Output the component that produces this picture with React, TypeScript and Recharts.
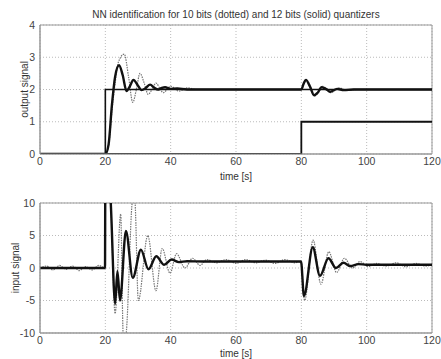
import React from 'react';
import { LineChart, Line, XAxis, YAxis, CartesianGrid, ReferenceArea } from 'recharts';

// ---------- top plot: output signal ----------
const refT = [0, 20, 20, 120];
const refY = [0, 0, 2, 2];

const distT = [0, 80, 80, 120];
const distY = [0, 0, 1, 1];

const out12T = [0, 20, 21, 22, 23, 24.2, 25.3, 26.5, 27.5, 28.6, 29.8, 31.1, 32.4, 33.7, 35, 36.2, 37.3, 38.3, 40, 42, 45, 50, 80, 80.7, 81.4, 82.6, 83.9, 85, 86.2, 87.5, 88.8, 91, 93, 96, 100, 120];
const out12Y = [0, 0, 0.3, 1.5, 2.4, 2.75, 2.45, 1.95, 2.1, 2.3, 2.15, 1.98, 2.05, 2.15, 2.05, 2.0, 2.05, 2.07, 2.02, 2.03, 2.0, 2.0, 2.0, 2.18, 2.3, 2.1, 1.82, 1.9, 2.07, 2.02, 1.93, 2.02, 1.98, 2.0, 2.0, 2.0];

const out10T = [0, 20, 21, 22, 23, 24, 25.8, 27.1, 28.4, 29.5, 30.6, 31.9, 33.1, 34.3, 35.5, 36.6, 37.7, 40, 42.5, 45, 48, 80, 80.7, 81.5, 82.7, 84, 85.2, 86.5, 87.8, 89, 91.5, 94, 97, 120];
const out10Y = [0, 0, 0.25, 1.3, 2.2, 2.85, 3.1, 2.4, 1.6, 2.0, 2.5, 2.2, 1.85, 2.0, 2.2, 2.05, 1.9, 2.1, 1.95, 2.05, 2.0, 2.0, 2.15, 2.3, 2.12, 1.8, 1.9, 2.1, 2.02, 1.9, 2.05, 1.97, 2.0, 2.0];

// ---------- bottom plot: input signal ----------
const in12T = [0, 19.9, 20, 21.4, 23, 23.7, 24.5, 26.3, 28.4, 30.9, 33.2, 35.6, 38, 40.3, 42.5, 45, 50, 79.9, 80.8, 83.5, 85.7, 88.3, 90.6, 92.9, 95, 97.5, 100, 120];
const in12Y = [0, 0, 14, 12, -5.5, -0.5, -5, 5.7, -1.5, 2.8, -0.2, 1.8, 0.5, 1.3, 0.9, 1.05, 1.0, 1.0, -4.3, 3.2, -1.2, 1.5, 0.0, 0.8, 0.3, 0.6, 0.5, 0.5];

const in10T = [0, 2, 4, 6, 8, 10, 12, 14, 16, 18, 19.9, 20, 21.4, 23, 24.7, 25.5, 26.2, 28.4, 29, 30.1, 33, 35.5, 37.4, 39.8, 41.8, 44.4, 46.7, 49, 51, 54, 57, 60, 63, 66, 69, 72, 75, 78, 79.9, 81, 83.6, 86, 88.4, 90.8, 93.2, 95.6, 98, 100.5, 103, 106, 109, 112, 115, 118, 120];
const in10Y = [0, 0.3, -0.3, 0.4, -0.2, 0.3, -0.4, 0.2, -0.3, 0.4, 0, 14, 12, -7, 8.3, -10.5, -10.5, 10.5, 10.5, -5, 5, -3.5, 3, -0.8, 2.2, 0, 1.5, 0.4, 1.3, 0.8, 1.3, 0.7, 1.3, 0.8, 1.2, 0.7, 1.3, 0.8, 1.0, -5, 4.3, -2.5, 2.5, -0.7, 1.5, 0, 1.0, 0.2, 0.7, 0.3, 0.8, 0.2, 0.7, 0.3, 0.5];

const xTicks = [0, 20, 40, 60, 80, 100, 120];
const topYTicks = [0, 1, 2, 3, 4];
const botYTicks = [-10, -5, 0, 5, 10];

const zip = (t: number[], y: number[]) => t.map((x, i) => ({ t: x, v: y[i] }));

const font = 'Liberation Sans, Arial, sans-serif';
const tickStyle = { fontSize: 10.5, fill: '#444', fontFamily: font };

function Panel({ yTicks, yDomain, yLabel, labelX, series, top, height, marginTop, xAxisHeight, labelOffset }: any) {
  const plotH = height - marginTop - xAxisHeight;
  const cy = marginTop + plotH / 2;
  return (
    <div style={{ position: 'absolute', left: 0, top, width: 441, height }}>
      <LineChart width={441} height={height} margin={{ top: marginTop, right: 9, bottom: 0, left: 0 }}>
        <CartesianGrid stroke="#aaa" strokeDasharray="1 2" strokeWidth={0.8} />
        <XAxis
          type="number"
          dataKey="t"
          domain={[0, 120]}
          ticks={xTicks}
          height={xAxisHeight}
          tickLine={false}
          tickSize={2}
          axisLine={{ stroke: '#999' }}
          tick={tickStyle}
          allowDuplicatedCategory={false}
          label={{ value: 'time [s]', position: 'insideBottom', offset: labelOffset, style: { fontSize: 10, fill: '#333', fontFamily: font } }}
        />
        <YAxis
          type="number"
          domain={yDomain}
          ticks={yTicks}
          width={40}
          tickLine={false}
          tickSize={3}
          allowDataOverflow
          axisLine={{ stroke: '#999' }}
          tick={tickStyle}
          label={{
            value: yLabel,
            content: () => (
              <text
                transform={`translate(${labelX}, ${cy}) rotate(-90)`}
                textAnchor="middle"
                dominantBaseline="central"
                style={{ fontSize: 10, fill: '#333', fontFamily: font }}
              >
                {yLabel}
              </text>
            ),
          }}
        />
        <ReferenceArea x1={0} x2={120} y1={yDomain[0]} y2={yDomain[1]} fill="none" stroke="#999" strokeWidth={1} />
        {series.map((s: any, i: number) => (
          <Line
            key={i}
            data={s.data}
            dataKey="v"
            type={s.curve}
            dot={false}
            stroke={s.stroke}
            strokeWidth={s.width}
            strokeDasharray={s.dash}
            isAnimationActive={false}
          />
        ))}
      </LineChart>
    </div>
  );
}

export default function App() {
  const topSeries = [
    { data: zip(out10T, out10Y), stroke: '#777', width: 1.2, dash: '1.5 1', curve: 'monotone' },
    { data: zip(refT, refY), stroke: '#111', width: 1.6, curve: 'linear' },
    { data: zip(distT, distY), stroke: '#111', width: 1.8, curve: 'linear' },
    { data: zip(out12T, out12Y), stroke: '#111', width: 2.4, curve: 'monotone' },
  ];
  const botSeries = [
    { data: zip(in10T, in10Y), stroke: '#777', width: 1.2, dash: '1.5 1', curve: 'monotone' },
    { data: zip(in12T, in12Y), stroke: '#111', width: 2.4, curve: 'monotone' },
  ];
  return (
    <div style={{ position: 'absolute', left: 0, top: 0, width: 441, height: 359, background: '#fff' }}>
      <div style={{ position: 'absolute', left: 40, width: 392, top: 9, textAlign: 'center', fontSize: 10, color: '#333', fontFamily: font }}>
        NN identification for 10 bits (dotted) and 12 bits (solid) quantizers
      </div>
      <Panel yTicks={topYTicks} yDomain={[0, 4]} yLabel="output signal" labelX={24} series={topSeries} top={0} height={184} marginTop={25} xAxisHeight={30} labelOffset={4} />
      <Panel yTicks={botYTicks} yDomain={[-10, 10]} yLabel="input signal" labelX={15} series={botSeries} top={180} height={179} marginTop={23} xAxisHeight={26} labelOffset={2} />
    </div>
  );
}
